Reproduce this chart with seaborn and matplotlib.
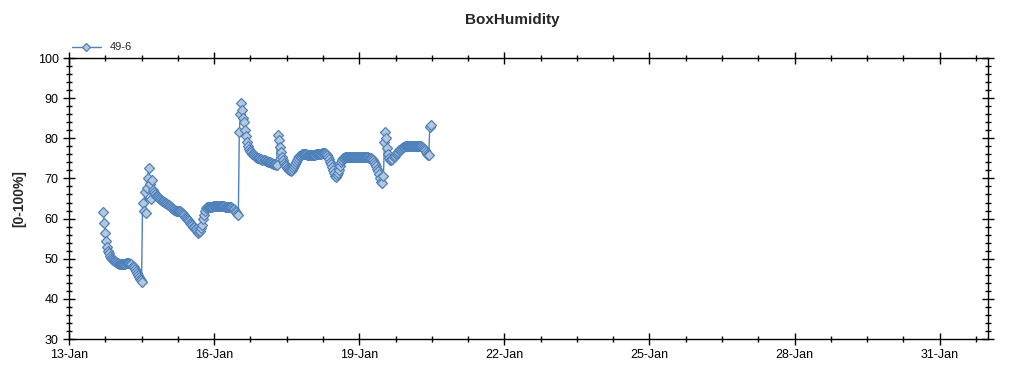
import matplotlib
matplotlib.use("Agg")
import matplotlib.pyplot as plt
import matplotlib.dates as mdates
from matplotlib.ticker import AutoMinorLocator, MultipleLocator
import seaborn as sns
import pandas as pd

# half-hourly readings of sensor 49-6, starting 13-Jan 17:00
start = "2021-01-13 17:00"
humidity = [
    61.6, 59.0, 56.5, 54.5, 53.0, 52.0, 51.3, 50.8, 50.3, 50.0,
    49.7, 49.5, 49.4, 49.2, 49.0, 48.9, 48.8, 48.8, 48.7, 48.7,
    48.7, 48.7, 48.8, 48.9, 48.9, 49.0, 48.9, 48.8, 48.6, 48.3,
    48.0, 47.5, 47.0, 46.5, 46.0, 45.5, 45.0, 44.6, 44.3,
    64.0, 62.0, 66.5, 61.5, 67.5, 70.0, 72.5, 68.5, 65.0, 69.5,
    67.0, 66.5,
    66.0, 65.7, 65.5, 65.3, 65.1, 64.9, 64.7, 64.5, 64.3, 64.1,
    64.0, 63.8, 63.6, 63.5, 63.3, 63.1, 62.9, 62.6, 62.4, 62.2,
    62.1, 62.0, 62.0, 61.9, 61.9, 61.9, 61.7, 61.5, 61.2, 60.8,
    60.5, 60.2, 59.9, 59.6, 59.3, 59.0, 58.6, 58.3, 58.0, 57.8,
    57.5, 57.3, 56.9, 56.5, 56.7, 57.0, 57.6, 58.5, 59.8, 61.0,
    62.0, 62.6, 62.8, 62.9, 63.0, 63.0, 63.0, 63.0, 63.1, 63.1,
    63.1, 63.1, 63.2, 63.2, 63.1, 63.1, 63.1, 63.1, 63.1, 63.1,
    63.0, 63.0, 63.0, 63.0, 62.9, 62.9, 62.8, 62.7, 62.5, 62.3,
    62.0, 61.6, 61.2, 60.8,
    81.5, 86.0, 88.7, 87.0, 85.0, 84.0, 82.0, 80.5, 79.2, 78.0,
    77.4, 76.9, 76.5, 76.2, 76.0, 75.8, 75.6, 75.4, 75.2, 75.1,
    75.0, 74.9, 74.8, 74.7, 74.6, 74.5, 74.4, 74.3, 74.2, 74.1,
    74.0, 73.9, 73.8, 73.7, 73.6, 73.5, 73.4, 73.3,
    80.8, 79.5, 77.8, 76.5, 75.4, 74.5, 73.8, 73.3, 73.0, 72.7,
    72.4, 72.2, 72.0, 71.8, 72.0, 72.5, 73.0, 73.6, 74.2, 74.7,
    75.1, 75.5, 75.7, 75.9, 76.0, 76.1, 76.1, 76.0, 76.0, 75.9,
    75.9, 75.8, 75.8, 75.8, 75.8, 75.8, 75.9, 75.9, 76.0, 76.0,
    76.1, 76.1, 76.2, 76.2, 76.3, 76.4, 76.4, 76.4, 76.2, 75.8,
    75.4, 74.9, 74.2, 73.5, 72.8, 72.1, 71.3, 70.6, 70.4, 70.8,
    71.3, 72.0, 73.2, 74.2, 74.7, 75.0, 75.2, 75.3, 75.4, 75.4,
    75.4, 75.4, 75.4, 75.4, 75.3, 75.3, 75.3, 75.3, 75.3, 75.3,
    75.3, 75.3, 75.3, 75.3, 75.3, 75.3, 75.3, 75.3, 75.3, 75.3,
    75.3, 75.2, 75.2, 75.2,
    74.9, 74.6, 74.1, 73.6, 73.0, 72.4, 71.8, 71.0, 70.0, 69.0,
    68.8, 70.5, 79.0, 81.5, 80.0, 77.5, 76.0, 75.0, 74.6, 74.6,
    74.9, 75.3, 75.6, 76.0, 76.4, 76.7, 77.0, 77.2, 77.4, 77.6,
    77.8, 77.9, 78.0, 78.0, 78.1, 78.1, 78.1, 78.1, 78.1, 78.1,
    78.1, 78.1, 78.0, 78.0, 78.0, 78.0, 78.0, 78.0, 78.0, 77.9,
    77.6, 77.3, 77.0, 76.6, 76.2, 75.9, 75.8, 82.8, 83.4,
]
series_name = "49-6"

times = pd.date_range(start, periods=len(humidity), freq="30min")
df = pd.DataFrame({"time": times, "humidity": humidity})

sns.set_style("ticks")
plt.rcParams["font.family"] = ["Liberation Sans", "DejaVu Sans"]

fig = plt.figure(figsize=(10.24, 3.75), dpi=100)
ax = fig.add_axes([0.0674, 0.096, 0.8975, 0.7493])

sns.lineplot(data=df, x="time", y="humidity", ax=ax, label=series_name,
             color="#4f81bd", linewidth=1, marker="D", markersize=4.6,
             markerfacecolor="#b4c8dc", markeredgecolor="#4f81bd",
             markeredgewidth=0.9)

ax.set_xlim(pd.Timestamp("2021-01-13"), pd.Timestamp("2021-02-01"))
ax.set_ylim(30, 100)
ax.xaxis.set_major_locator(mdates.DayLocator(bymonthday=[13, 16, 19, 22, 25, 28, 31]))
ax.xaxis.set_major_formatter(mdates.DateFormatter("%d-%b"))
ax.xaxis.set_minor_locator(AutoMinorLocator(4))
ax.yaxis.set_major_locator(MultipleLocator(10))
ax.yaxis.set_minor_locator(MultipleLocator(2))

ax.tick_params(which="both", direction="inout", top=True, right=True,
               labelsize=9, colors="black", width=1)
ax.tick_params(which="major", length=8)
ax.tick_params(which="minor", length=5)
for s in ax.spines.values():
    s.set_color("black")
    s.set_linewidth(1)

ax.set_xlabel("")
ax.set_ylabel("[0-100%]", fontsize=10, fontweight="bold", labelpad=8)
fig.suptitle("BoxHumidity", x=0.5, y=0.965, fontsize=11, fontweight="bold")

ax.legend(loc="lower left", bbox_to_anchor=(-0.003, 1.0), frameon=False,
          fontsize=8, handlelength=2.6, borderaxespad=0.1, markerscale=0.8)

fig.savefig("out.png", dpi=100)
